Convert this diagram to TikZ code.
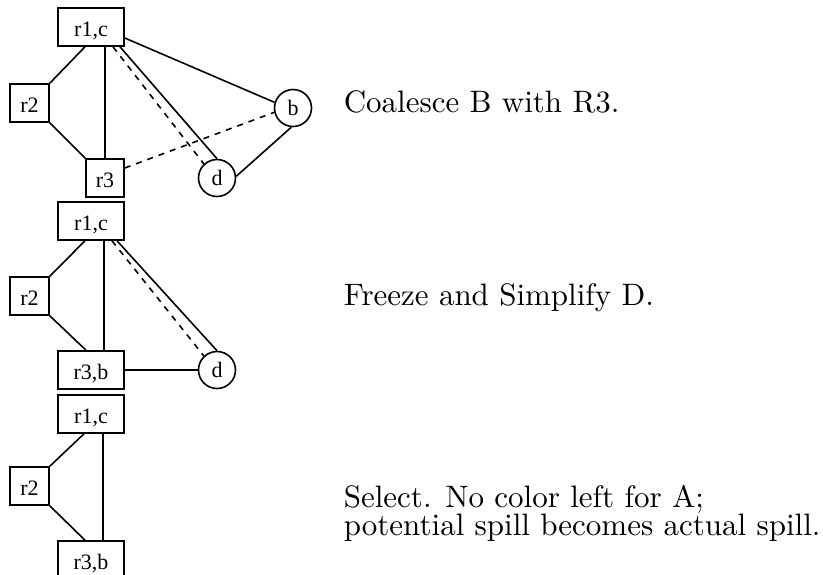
\documentclass[tikz,border=0pt]{standalone}
\usepackage{fontspec}
\usepackage{tikz}
\usetikzlibrary{positioning}
\newfontfamily\regfont{Liberation Serif}
\newfontfamily\remarkfont{lmroman10-regular}[Extension=.otf]

\begin{document}
\begin{tikzpicture}[x=0.5pt, y=-0.5pt, thick,
    reg/.style={draw, rectangle, inner sep=0pt, minimum height=19pt,
      text height=9.5pt, text depth=0pt, font=\regfont\fontsize{11}{13}\selectfont},
    wide/.style={reg, minimum width=33pt},
    narrow/.style={reg, minimum width=19.5pt},
    var/.style={draw, circle, inner sep=0pt, minimum size=18.5pt,
      font=\regfont\fontsize{11}{13}\selectfont},
    remark/.style={anchor=base west, inner sep=0pt,
      font=\remarkfont\fontsize{15.5}{18}\selectfont}]
  \clip (0,0) rectangle (823,574);

  % coalesce
  \node[wide] (r1c_a) at (91,27) {r1,c};
  \node[narrow] (r2_a) at (29.5,103) {r2};
  \node[reg, minimum width=19pt] (r3_a) at (105,178) {r3};
  \node[var] (b_a) at (293,108) {b};
  \node[var] (d_a) at (217,178) {d};
  \draw ([xshift=-3pt]r1c_a.south) -- (r2_a.north east);
  \draw (r2_a.south east) -- (r3_a.north west);
  \draw (r3_a.north) -- (r3_a.north |- r1c_a.south);
  \draw[dashed] ([xshift=11pt]r1c_a.south) -- (d_a.133);
  \draw ([xshift=14.5pt]r1c_a.south) -- (d_a.north);
  \draw ([yshift=-5.5pt]r1c_a.east) -- (b_a.163);
  \draw[dashed] ([yshift=5pt]r3_a.east) -- (b_a.193);
  \draw (b_a.265) -- (d_a.5);
  \node[remark] (coalesce_text) at (343,112) {Coalesce B with R3.};

  % freeze
  \node[wide] (r1c_b) at (91,221) {r1,c};
  \node[narrow] (r2_b) at (29.5,296) {r2};
  \node[wide] (r3b_b) at (91,370) {r3,b};
  \node[var] (d_b) at (217,370) {d};
  \draw ([xshift=-3pt]r1c_b.south) -- (r2_b.north east);
  \draw (r2_b.south east) -- ([xshift=-2.5pt]r3b_b.north);
  \draw ([xshift=6.5pt]r1c_b.south) -- ([xshift=6.5pt]r3b_b.north);
  \draw[dashed] ([xshift=10.5pt]r1c_b.south) -- (d_b.133);
  \draw ([xshift=13pt]r1c_b.south) -- (d_b.north);
  \draw (r3b_b.east) -- (d_b.west);
  \node[remark] (freeze_text) at (343,305) {Freeze and Simplify D.};

  % select
  \node[wide] (r1c_c) at (91,414) {r1,c};
  \node[narrow] (r2_c) at (29.5,486) {r2};
  \node[wide] (r3b_c) at (91,560) {r3,b};
  \draw ([xshift=-3.5pt]r1c_c.south) -- (r2_c.north east);
  \draw (r2_c.south east) -- ([xshift=-3pt]r3b_c.north);
  \draw ([xshift=6pt]r1c_c.south) -- ([xshift=6pt]r3b_c.north);
  \node[remark] (select_text) at (343,507) {Select. No color left for A;};
  \node[remark] (spill_text) at (343,535) {potential spill becomes actual spill.};
\end{tikzpicture}
\end{document}
